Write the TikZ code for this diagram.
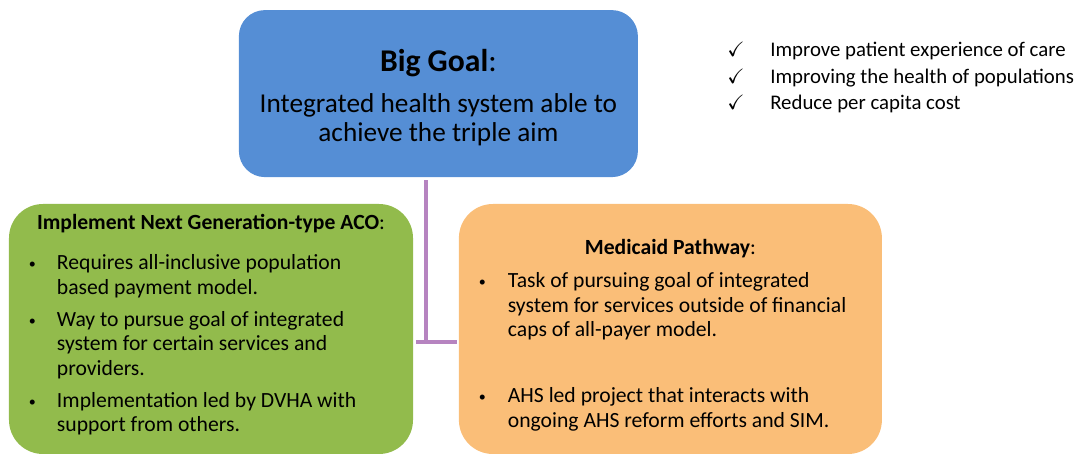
\documentclass[tikz,border=0pt]{standalone}
\usepackage{amsmath,amssymb}
\usepackage{fontspec}
\setmainfont{Carlito}
\usetikzlibrary{positioning}
\definecolor{goalblue}{RGB}{85,142,213}
\definecolor{acogreen}{RGB}{146,187,76}
\definecolor{pathorange}{RGB}{250,190,120}
\definecolor{linkpurple}{RGB}{182,132,192}

\newcommand{\bodysize}{\fontsize{15.4}{17.4}\selectfont}
\newcommand{\dotmark}{\raisebox{0.12ex}{\fontsize{10}{10}\selectfont\textbullet}}

\begin{document}
\begin{tikzpicture}[
    box/.style={rounded corners=0.85cm, inner sep=0pt},
    txt/.style={inner sep=0pt, font=\bodysize},
    link/.style={linkpurple, line width=2.2pt}
  ]
  \useasboundingbox (0,0) rectangle (27.125,11.4);

  % Big goal box
  \node[box, rounded corners=0.65cm, fill=goalblue, minimum width=9.975cm, minimum height=4.175cm,
        font=\fontsize{19.4}{20.6}\selectfont] (goal) at (10.96,9.06) {
    \begin{tabular}{c}
      \rule{0pt}{24pt}{\fontsize{22.5}{27}\selectfont\textbf{Big Goal}:}\\[8.5pt]
      Integrated health system able to\\
      achieve the triple aim
    \end{tabular}
  };

  % Triple aim checklist
  \node[txt, anchor=base west, font=\fontsize{14.8}{18.5}\selectfont] (aims) at (18.175,9.975) {
    \begin{tabular}[t]{@{}p{1.075cm}@{}l@{}}
      $\checkmark$ & Improve patient experience of care\\
      $\checkmark$ & Improving the health of populations\\
      $\checkmark$ & Reduce per capita cost
    \end{tabular}
  };

  % ACO box
  \node[box, fill=acogreen, minimum width=10.1cm, minimum height=6.25cm] (aco) at (5.275,3.175) {};
  \node[txt, anchor=base] (acotitle) at ([yshift=-0.65cm]aco.north) {\textbf{Implement Next Generation-type ACO}:};
  \node[txt, anchor=base west] (acolist) at ([xshift=0.5cm,yshift=-1.65cm]aco.north west) {
    \begin{tabular}[t]{@{}p{0.7cm}@{}l@{}}
      \dotmark & Requires all-inclusive population\\
               & based payment model.\\[5.5pt]
      \dotmark & Way to pursue goal of integrated\\
               & system for certain services and\\
               & providers.\\[5.5pt]
      \dotmark & Implementation led by DVHA with\\
               & support from others.
    \end{tabular}
  };

  % Medicaid pathway box
  \node[box, fill=pathorange, minimum width=10.575cm, minimum height=6.25cm] (pathway) at (16.76,3.175) {};
  \node[txt, anchor=base] (pathtitle) at ([yshift=-1.275cm]pathway.north) {\textbf{Medicaid Pathway}:};
  \node[txt, anchor=base west] (pathlist) at ([xshift=0.5cm,yshift=-2.1cm]pathway.north west) {
    \begin{tabular}[t]{@{}p{0.725cm}@{}l@{}}
      \dotmark & Task of pursuing goal of integrated\\
               & system for services outside of financial\\
               & caps of all-payer model.\\[29.5pt]
      \dotmark & AHS led project that interacts with\\
               & ongoing AHS reform efforts and SIM.
    \end{tabular}
  };

  % Connector from the goal down to both paths
  \coordinate (join) at (10.65,2.85);
  \draw[link, shorten <=0.07cm] (goal.south -| join) -- (join);
  \draw[link, shorten <=0.07cm, shorten >=0.05cm] (aco.east |- join) -- (pathway.west |- join);
\end{tikzpicture}
\end{document}
